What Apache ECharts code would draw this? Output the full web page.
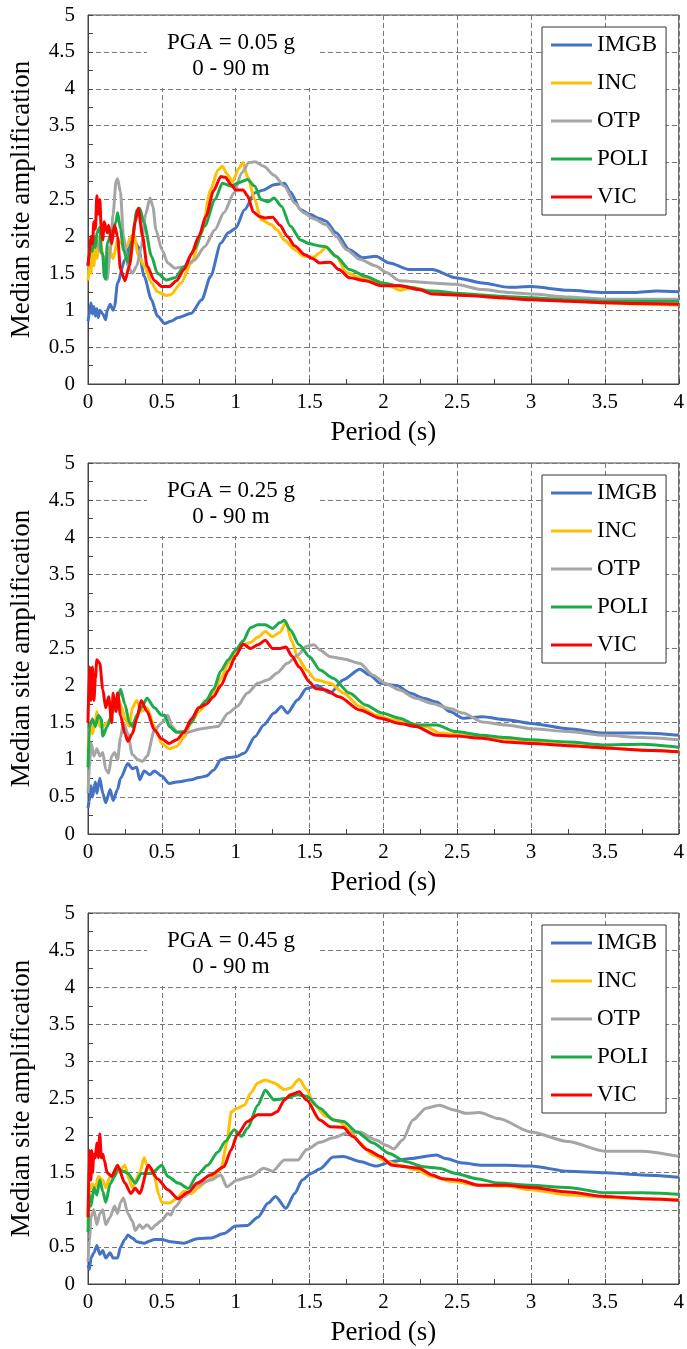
<!DOCTYPE html>
<html>
<head>
<meta charset="utf-8">
<script src="https://cdn.jsdelivr.net/npm/echarts@6/dist/echarts.min.js"></script>
<style>
html,body{margin:0;padding:0;background:#fff;}
#chart{width:687px;height:1349px;}
</style>
</head>
<body>
<div id="chart"></div>
<script>
// ---------- DATA ----------
const seriesNames = ['IMGB', 'INC', 'OTP', 'POLI', 'VIC'];
const seriesColors = ['#4472C4', '#FFC000', '#A5A5A5', '#1DAA4B', '#FF0000'];
const panelLabels = ['PGA = 0.05 g', 'PGA = 0.25 g', 'PGA = 0.45 g'];
const depthLabel = '0 - 90 m';
const xTicks = { min: 0, max: 4, step: 0.5 };
const yTicks = { min: 0, max: 5, step: 0.5 };

// Panel 1 : PGA = 0.05 g   [period (s), median amplification]
const p1_IMGB = [[0,0.85],[0.01,0.95],[0.02,1.1],[0.03,0.95],[0.04,1.05],[0.05,0.92],[0.06,1.02],[0.07,0.9],[0.08,1.0],[0.1,0.95],[0.12,0.87],[0.13,1.0],[0.15,1.08],[0.17,1.0],[0.18,1.05],[0.2,1.37],[0.25,1.68],[0.29,1.92],[0.31,1.95],[0.34,1.86],[0.38,1.46],[0.43,1.14],[0.47,0.92],[0.52,0.82],[0.56,0.85],[0.61,0.9],[0.7,0.96],[0.77,1.14],[0.83,1.46],[0.9,1.91],[0.95,2.05],[1.0,2.11],[1.06,2.36],[1.13,2.59],[1.19,2.63],[1.26,2.7],[1.33,2.72],[1.37,2.6],[1.44,2.36],[1.5,2.3],[1.57,2.24],[1.61,2.21],[1.68,2.05],[1.77,1.82],[1.86,1.71],[1.95,1.73],[2.04,1.64],[2.18,1.55],[2.33,1.55],[2.49,1.44],[2.67,1.37],[2.85,1.31],[3.0,1.32],[3.25,1.27],[3.5,1.24],[3.7,1.24],[3.85,1.26],[4.0,1.25]];
const p1_INC = [[0,1.4],[0.01,1.6],[0.02,1.5],[0.03,1.8],[0.04,1.6],[0.05,1.9],[0.06,1.7],[0.08,2.0],[0.1,1.75],[0.12,1.6],[0.14,1.85],[0.17,1.7],[0.2,1.95],[0.23,1.9],[0.26,1.85],[0.29,2.0],[0.31,2.03],[0.34,1.75],[0.38,1.6],[0.43,1.37],[0.47,1.25],[0.53,1.2],[0.56,1.21],[0.63,1.37],[0.7,1.64],[0.77,2.05],[0.83,2.63],[0.88,2.9],[0.91,2.95],[0.94,2.85],[0.98,2.74],[1.02,2.92],[1.05,3.0],[1.08,2.81],[1.13,2.5],[1.17,2.23],[1.24,2.16],[1.28,2.09],[1.33,1.95],[1.4,1.82],[1.46,1.73],[1.53,1.72],[1.57,1.78],[1.61,1.85],[1.68,1.73],[1.75,1.51],[1.84,1.44],[1.95,1.4],[2.04,1.33],[2.11,1.27],[2.2,1.31],[2.33,1.24],[2.56,1.22],[2.78,1.17],[3.0,1.15],[3.25,1.13],[3.5,1.1],[3.75,1.08],[4.0,1.07]];
const p1_OTP = [[0,1.6],[0.02,1.85],[0.04,2.0],[0.06,1.95],[0.08,1.8],[0.1,1.75],[0.12,1.45],[0.13,1.42],[0.15,1.8],[0.17,2.3],[0.19,2.75],[0.2,2.78],[0.22,2.6],[0.24,2.0],[0.27,1.6],[0.3,1.5],[0.33,1.6],[0.36,1.85],[0.39,2.3],[0.42,2.52],[0.44,2.4],[0.46,2.09],[0.5,1.82],[0.54,1.64],[0.59,1.57],[0.65,1.59],[0.72,1.68],[0.79,1.86],[0.86,2.09],[0.92,2.32],[0.99,2.59],[1.04,2.86],[1.09,3.0],[1.13,3.01],[1.19,2.95],[1.26,2.83],[1.33,2.68],[1.4,2.45],[1.46,2.32],[1.53,2.24],[1.61,2.16],[1.68,2.0],[1.75,1.82],[1.84,1.69],[1.95,1.6],[2.02,1.51],[2.11,1.4],[2.33,1.37],[2.49,1.35],[2.67,1.28],[2.85,1.24],[3.0,1.22],[3.25,1.18],[3.5,1.15],[3.75,1.15],[4.0,1.15]];
const p1_POLI = [[0,1.62],[0.01,1.75],[0.02,1.9],[0.03,1.8],[0.04,2.0],[0.05,1.85],[0.06,2.05],[0.08,2.12],[0.09,1.8],[0.1,1.75],[0.11,1.45],[0.12,1.42],[0.13,1.9],[0.15,2.0],[0.17,2.1],[0.19,2.2],[0.2,2.32],[0.22,2.1],[0.24,1.82],[0.27,1.65],[0.3,1.95],[0.33,2.35],[0.35,2.38],[0.38,2.18],[0.43,1.73],[0.47,1.5],[0.53,1.41],[0.59,1.44],[0.65,1.59],[0.72,1.82],[0.79,2.14],[0.86,2.5],[0.91,2.72],[0.97,2.68],[1.01,2.72],[1.08,2.77],[1.13,2.68],[1.17,2.5],[1.22,2.47],[1.26,2.52],[1.31,2.41],[1.37,2.14],[1.44,1.95],[1.5,1.9],[1.57,1.87],[1.61,1.86],[1.68,1.73],[1.77,1.55],[1.88,1.46],[1.99,1.37],[2.11,1.33],[2.33,1.26],[2.56,1.22],[2.78,1.19],[3.0,1.17],[3.25,1.14],[3.5,1.12],[3.75,1.12],[4.0,1.12]];
const p1_VIC = [[0,1.6],[0.01,1.8],[0.02,2.0],[0.03,1.9],[0.04,2.2],[0.05,2.1],[0.06,2.55],[0.07,2.3],[0.08,2.5],[0.09,2.1],[0.1,1.95],[0.11,2.2],[0.13,2.05],[0.14,2.15],[0.16,1.9],[0.18,2.15],[0.2,2.0],[0.22,1.55],[0.25,1.4],[0.28,1.6],[0.32,2.2],[0.34,2.38],[0.37,2.0],[0.4,1.6],[0.45,1.4],[0.5,1.32],[0.55,1.32],[0.6,1.4],[0.65,1.55],[0.7,1.76],[0.75,2.0],[0.8,2.28],[0.85,2.62],[0.9,2.81],[0.93,2.8],[0.97,2.7],[1.0,2.63],[1.05,2.63],[1.08,2.55],[1.12,2.33],[1.16,2.27],[1.2,2.25],[1.25,2.26],[1.3,2.15],[1.35,2.0],[1.4,1.87],[1.47,1.75],[1.52,1.7],[1.57,1.64],[1.64,1.65],[1.7,1.55],[1.77,1.44],[1.88,1.4],[1.99,1.33],[2.11,1.33],[2.24,1.28],[2.33,1.22],[2.56,1.2],[2.78,1.17],[3.0,1.14],[3.25,1.12],[3.5,1.1],[3.75,1.09],[4.0,1.08]];

// Panel 2 : PGA = 0.25 g
const p2_IMGB = [[0,0.35],[0.01,0.45],[0.02,0.65],[0.03,0.5],[0.05,0.7],[0.06,0.55],[0.08,0.75],[0.1,0.55],[0.12,0.42],[0.15,0.6],[0.17,0.45],[0.2,0.6],[0.22,0.75],[0.27,0.95],[0.3,0.88],[0.33,0.9],[0.35,0.73],[0.38,0.85],[0.42,0.8],[0.45,0.85],[0.5,0.78],[0.55,0.68],[0.6,0.7],[0.7,0.73],[0.75,0.76],[0.8,0.78],[0.85,0.86],[0.9,1.0],[0.95,1.03],[1.0,1.04],[1.06,1.09],[1.13,1.31],[1.19,1.47],[1.26,1.63],[1.31,1.72],[1.35,1.63],[1.42,1.81],[1.48,1.96],[1.55,2.0],[1.64,1.9],[1.73,2.08],[1.84,2.22],[1.91,2.14],[1.98,2.03],[2.09,2.0],[2.18,1.9],[2.27,1.83],[2.36,1.78],[2.45,1.65],[2.54,1.56],[2.67,1.58],[2.83,1.54],[3.0,1.49],[3.25,1.42],[3.5,1.36],[3.75,1.36],[4.0,1.33]];
const p2_INC = [[0,1.1],[0.01,1.45],[0.02,1.5],[0.03,1.35],[0.05,1.5],[0.06,1.65],[0.08,1.45],[0.1,1.45],[0.13,1.5],[0.15,1.55],[0.18,1.75],[0.2,1.85],[0.23,1.7],[0.25,1.55],[0.28,1.45],[0.3,1.7],[0.33,1.8],[0.36,1.65],[0.4,1.7],[0.45,1.45],[0.5,1.22],[0.55,1.15],[0.6,1.18],[0.65,1.3],[0.7,1.5],[0.75,1.65],[0.8,1.75],[0.85,1.9],[0.9,2.1],[0.95,2.3],[1.0,2.45],[1.05,2.55],[1.1,2.58],[1.15,2.65],[1.2,2.73],[1.25,2.66],[1.3,2.72],[1.34,2.85],[1.38,2.6],[1.42,2.38],[1.48,2.21],[1.54,2.08],[1.64,2.03],[1.73,1.9],[1.84,1.72],[1.95,1.6],[2.06,1.54],[2.18,1.49],[2.29,1.45],[2.38,1.36],[2.56,1.33],[2.78,1.29],[3.0,1.24],[3.25,1.2],[3.5,1.16],[3.75,1.13],[4.0,1.11]];
const p2_OTP = [[0,0.55],[0.01,0.9],[0.02,1.23],[0.04,1.05],[0.06,1.15],[0.08,1.05],[0.1,1.1],[0.12,0.87],[0.14,0.82],[0.16,1.05],[0.18,1.1],[0.2,1.0],[0.22,1.3],[0.24,1.5],[0.27,1.35],[0.3,1.07],[0.34,1.0],[0.37,0.98],[0.4,1.05],[0.45,1.4],[0.5,1.5],[0.54,1.6],[0.57,1.45],[0.6,1.38],[0.65,1.36],[0.77,1.42],[0.88,1.45],[0.95,1.63],[1.01,1.72],[1.08,1.9],[1.15,2.03],[1.22,2.08],[1.28,2.17],[1.35,2.3],[1.42,2.41],[1.48,2.53],[1.53,2.55],[1.57,2.48],[1.64,2.39],[1.73,2.36],[1.84,2.3],[1.93,2.14],[2.02,2.02],[2.11,1.94],[2.22,1.83],[2.33,1.76],[2.45,1.69],[2.54,1.63],[2.67,1.51],[2.83,1.47],[3.0,1.42],[3.25,1.38],[3.5,1.33],[3.75,1.3],[4.0,1.27]];
const p2_POLI = [[0,0.9],[0.01,1.45],[0.03,1.55],[0.05,1.45],[0.07,1.6],[0.09,1.55],[0.1,1.32],[0.13,1.45],[0.17,1.65],[0.2,1.8],[0.22,1.95],[0.25,1.75],[0.28,1.5],[0.3,1.45],[0.33,1.6],[0.36,1.7],[0.4,1.83],[0.45,1.7],[0.5,1.6],[0.52,1.6],[0.55,1.45],[0.6,1.37],[0.65,1.38],[0.7,1.5],[0.75,1.7],[0.8,1.8],[0.85,1.95],[0.9,2.2],[0.95,2.35],[1.0,2.48],[1.05,2.6],[1.1,2.78],[1.15,2.82],[1.2,2.82],[1.25,2.77],[1.3,2.85],[1.33,2.88],[1.37,2.75],[1.43,2.55],[1.5,2.39],[1.57,2.21],[1.66,2.1],[1.77,1.9],[1.88,1.74],[1.99,1.63],[2.11,1.56],[2.22,1.47],[2.36,1.47],[2.49,1.38],[2.67,1.33],[2.83,1.3],[3.0,1.27],[3.25,1.24],[3.5,1.2],[3.75,1.21],[4.0,1.17]];
const p2_VIC = [[0,1.5],[0.01,2.25],[0.02,1.8],[0.03,2.25],[0.04,1.8],[0.05,2.1],[0.06,2.35],[0.08,2.3],[0.1,1.95],[0.12,1.7],[0.14,1.85],[0.16,1.5],[0.17,1.9],[0.19,1.65],[0.2,1.9],[0.22,1.6],[0.25,1.35],[0.27,1.25],[0.3,1.35],[0.33,1.55],[0.36,1.8],[0.4,1.65],[0.45,1.4],[0.5,1.28],[0.55,1.22],[0.6,1.27],[0.65,1.37],[0.7,1.55],[0.75,1.7],[0.8,1.75],[0.85,1.85],[0.9,2.0],[0.95,2.2],[1.0,2.4],[1.05,2.56],[1.1,2.5],[1.15,2.55],[1.2,2.61],[1.25,2.5],[1.3,2.5],[1.34,2.52],[1.38,2.4],[1.43,2.25],[1.5,2.05],[1.54,1.96],[1.61,1.94],[1.7,1.85],[1.84,1.67],[1.98,1.56],[2.11,1.49],[2.22,1.45],[2.36,1.33],[2.49,1.32],[2.67,1.29],[2.83,1.24],[3.0,1.22],[3.25,1.19],[3.5,1.16],[3.75,1.13],[4.0,1.11]];

// Panel 3 : PGA = 0.45 g
const p3_IMGB = [[0,0.25],[0.01,0.2],[0.02,0.35],[0.04,0.42],[0.06,0.52],[0.08,0.4],[0.1,0.45],[0.12,0.35],[0.15,0.42],[0.17,0.35],[0.2,0.35],[0.22,0.5],[0.25,0.6],[0.27,0.66],[0.3,0.62],[0.33,0.57],[0.38,0.55],[0.42,0.58],[0.45,0.6],[0.5,0.6],[0.56,0.57],[0.65,0.55],[0.74,0.61],[0.83,0.62],[0.92,0.68],[1.0,0.78],[1.08,0.79],[1.15,0.9],[1.22,1.09],[1.27,1.18],[1.34,1.02],[1.4,1.22],[1.45,1.4],[1.51,1.49],[1.57,1.55],[1.66,1.71],[1.73,1.72],[1.84,1.65],[1.95,1.59],[2.06,1.65],[2.18,1.69],[2.36,1.74],[2.42,1.69],[2.54,1.63],[2.67,1.6],[2.83,1.6],[3.0,1.59],[3.25,1.52],[3.5,1.5],[3.75,1.47],[4.0,1.44]];
const p3_INC = [[0,0.8],[0.01,1.25],[0.03,1.35],[0.05,1.3],[0.07,1.45],[0.1,1.4],[0.12,1.3],[0.15,1.45],[0.2,1.5],[0.22,1.55],[0.25,1.6],[0.28,1.4],[0.3,1.3],[0.35,1.5],[0.38,1.7],[0.4,1.6],[0.45,1.45],[0.48,1.2],[0.5,1.1],[0.55,1.09],[0.6,1.15],[0.65,1.25],[0.7,1.22],[0.75,1.3],[0.8,1.38],[0.85,1.45],[0.9,1.55],[0.94,1.9],[0.97,2.32],[1.01,2.37],[1.06,2.41],[1.1,2.57],[1.15,2.71],[1.2,2.75],[1.26,2.71],[1.33,2.62],[1.37,2.64],[1.43,2.76],[1.48,2.62],[1.53,2.42],[1.61,2.26],[1.7,2.19],[1.77,2.08],[1.84,1.9],[1.93,1.74],[2.02,1.65],[2.11,1.6],[2.22,1.54],[2.33,1.45],[2.47,1.38],[2.65,1.33],[2.83,1.32],[3.0,1.27],[3.25,1.2],[3.5,1.17],[3.75,1.15],[4.0,1.14]];
const p3_OTP = [[0,0.3],[0.01,0.6],[0.02,0.9],[0.04,1.0],[0.06,0.8],[0.08,0.95],[0.1,1.0],[0.12,0.8],[0.15,0.9],[0.18,1.05],[0.2,0.95],[0.22,1.1],[0.24,1.16],[0.27,0.95],[0.3,0.85],[0.32,0.72],[0.35,0.8],[0.37,0.75],[0.4,0.8],[0.43,0.74],[0.46,0.8],[0.5,0.86],[0.54,0.95],[0.56,0.93],[0.59,1.04],[0.65,1.18],[0.74,1.33],[0.83,1.4],[0.9,1.47],[0.94,1.31],[1.01,1.4],[1.1,1.45],[1.19,1.56],[1.25,1.52],[1.33,1.67],[1.42,1.67],[1.48,1.81],[1.57,1.91],[1.66,1.97],[1.75,2.03],[1.84,2.05],[1.95,1.94],[2.02,1.87],[2.07,1.82],[2.13,1.94],[2.2,2.21],[2.29,2.37],[2.38,2.41],[2.47,2.35],[2.56,2.3],[2.65,2.31],[2.78,2.23],[3.0,2.05],[3.25,1.92],[3.5,1.79],[3.75,1.79],[4.0,1.72]];
const p3_POLI = [[0,0.7],[0.01,1.2],[0.02,1.05],[0.04,1.3],[0.06,1.2],[0.08,1.4],[0.1,1.25],[0.12,1.1],[0.15,1.35],[0.18,1.45],[0.2,1.55],[0.24,1.52],[0.27,1.49],[0.32,1.36],[0.36,1.49],[0.43,1.49],[0.5,1.6],[0.54,1.45],[0.61,1.36],[0.68,1.29],[0.74,1.47],[0.81,1.6],[0.88,1.78],[0.93,1.92],[0.99,2.08],[1.04,1.99],[1.08,2.1],[1.15,2.41],[1.2,2.61],[1.26,2.48],[1.33,2.5],[1.42,2.55],[1.48,2.53],[1.57,2.37],[1.66,2.21],[1.73,2.19],[1.82,2.05],[1.93,1.9],[2.04,1.76],[2.15,1.65],[2.27,1.58],[2.38,1.56],[2.49,1.49],[2.63,1.42],[2.78,1.36],[3.0,1.33],[3.25,1.3],[3.5,1.23],[3.75,1.23],[4.0,1.21]];
const p3_VIC = [[0,0.9],[0.01,1.8],[0.02,1.4],[0.025,1.8],[0.03,1.5],[0.04,1.75],[0.05,1.7],[0.06,1.9],[0.07,1.7],[0.08,2.02],[0.09,1.7],[0.1,1.75],[0.11,1.67],[0.13,1.5],[0.16,1.45],[0.2,1.6],[0.25,1.36],[0.29,1.22],[0.32,1.29],[0.35,1.22],[0.41,1.6],[0.47,1.42],[0.54,1.27],[0.61,1.15],[0.68,1.24],[0.74,1.36],[0.83,1.47],[0.92,1.58],[0.97,1.81],[1.01,2.01],[1.08,2.19],[1.15,2.28],[1.24,2.28],[1.28,2.32],[1.33,2.48],[1.37,2.55],[1.43,2.59],[1.48,2.48],[1.57,2.21],[1.64,2.12],[1.73,2.11],[1.79,1.99],[1.89,1.81],[1.98,1.72],[2.06,1.6],[2.15,1.58],[2.24,1.56],[2.33,1.47],[2.4,1.42],[2.51,1.4],[2.65,1.33],[2.83,1.33],[3.0,1.3],[3.25,1.24],[3.5,1.18],[3.75,1.15],[4.0,1.13]];

const panels = [
  [p1_IMGB, p1_INC, p1_OTP, p1_POLI, p1_VIC],
  [p2_IMGB, p2_INC, p2_OTP, p2_POLI, p2_VIC],
  [p3_IMGB, p3_INC, p3_OTP, p3_POLI, p3_VIC]
];

// ---------- LAYOUT / STYLE ----------
const FONT = "'Liberation Serif', 'Times New Roman', serif";
const gridTops = [15, 463, 913];
const gridHeights = [369, 371, 371];
const gridLeft = 88, gridWidth = 591;
const axisColor = '#444';
const gridLineColor = '#777';

const chart = echarts.init(document.getElementById('chart'), null, { renderer: 'canvas' });

const grids = [], xAxes = [], yAxes = [], series = [], legends = [], graphics = [];

panels.forEach((panel, i) => {
  grids.push({
    left: gridLeft, top: gridTops[i], width: gridWidth, height: gridHeights[i],
    show: true, borderColor: axisColor, borderWidth: 1, backgroundColor: '#fff'
  });
  xAxes.push({
    type: 'value', gridIndex: i, min: xTicks.min, max: xTicks.max, interval: xTicks.step,
    name: 'Period (s)', nameLocation: 'middle', nameGap: 35,
    nameTextStyle: { fontFamily: FONT, fontSize: 27, color: '#000' },
    axisLine: { show: true, onZero: false, lineStyle: { color: axisColor, width: 1 } },
    axisTick: { show: true, inside: true, length: 5, lineStyle: { color: axisColor } },
    minorTick: { show: true, splitNumber: 2, length: 5, lineStyle: { color: axisColor } },
    splitLine: { show: true, lineStyle: { color: gridLineColor, width: 1, type: [5, 3] } },
    axisLabel: { fontFamily: FONT, fontSize: 21, color: '#000', margin: 8 }
  });
  yAxes.push({
    type: 'value', gridIndex: i, min: yTicks.min, max: yTicks.max, interval: yTicks.step,
    name: 'Median site amplification', nameLocation: 'middle', nameGap: 53,
    nameTextStyle: { fontFamily: FONT, fontSize: 27, color: '#000' },
    axisLine: { show: true, onZero: false, lineStyle: { color: axisColor, width: 1 } },
    axisTick: { show: true, inside: true, length: 5, lineStyle: { color: axisColor } },
    minorTick: { show: true, splitNumber: 2, length: 5, lineStyle: { color: axisColor } },
    splitLine: { show: true, lineStyle: { color: gridLineColor, width: 1, type: [5, 3] } },
    axisLabel: { fontFamily: FONT, fontSize: 21, color: '#000', margin: 13 }
  });
  panel.forEach((data, k) => {
    series.push({
      name: seriesNames[k], type: 'line', xAxisIndex: i, yAxisIndex: i,
      data: data, showSymbol: false, symbol: 'none',
      smooth: 0.25, smoothMonotone: 'x',
      lineStyle: { color: seriesColors[k], width: 3 },
      itemStyle: { color: seriesColors[k] },
      emphasis: { disabled: true }, animation: false
    });
  });
  legends.push({
    data: seriesNames, orient: 'vertical', left: 542, top: gridTops[i] + 12,
    icon: 'rect', itemWidth: 41, itemHeight: 3, itemGap: 14,
    padding: [6, 9, 6, 9],
    backgroundColor: '#fff', borderColor: '#333', borderWidth: 1, borderRadius: 0,
    selectedMode: false,
    textStyle: { fontFamily: FONT, fontSize: 23, color: '#000', lineHeight: 24 }
  });
  const top = gridTops[i];
  graphics.push({
    type: 'rect', z: 10, shape: { x: 147, y: top + 1, width: 170, height: 72 },
    style: { fill: '#fff' }, silent: true
  });
  graphics.push({
    type: 'text', z: 11, x: 231, y: top + 28,
    style: { text: panelLabels[i], fontFamily: FONT, fontSize: 23, fill: '#000',
             textAlign: 'center', textVerticalAlign: 'middle' }
  });
  graphics.push({
    type: 'text', z: 11, x: 231, y: top + 54,
    style: { text: depthLabel, fontFamily: FONT, fontSize: 23, fill: '#000',
             textAlign: 'center', textVerticalAlign: 'middle' }
  });
});

chart.setOption({
  animation: false,
  backgroundColor: '#fff',
  grid: grids, xAxis: xAxes, yAxis: yAxes,
  legend: legends, series: series, graphic: graphics
});
</script>
</body>
</html>
